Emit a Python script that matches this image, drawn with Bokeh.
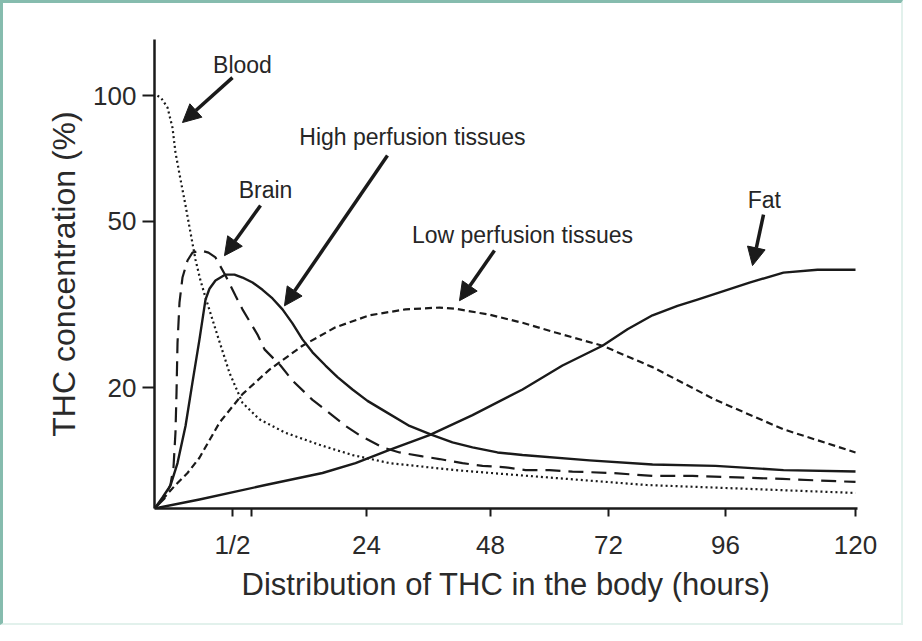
from bokeh.plotting import figure
from bokeh.models import Range1d, FixedTicker, Arrow, NormalHead, ColumnDataSource
from bokeh.core.properties import value
from bokeh.embed import file_html
from bokeh.resources import INLINE

# ---- data (x = position along the drawn time axis, 0..120.34; y = THC concentration %, log scale)
blood_x = [0.51, 1.20, 2.23, 3.08, 3.59, 4.45, 5.31, 6.16, 7.02, 7.87, 8.73, 10.44, 12.84, 15.06, 17.97,
           22.42, 28.24, 33.89, 40.23, 51.52, 60.77, 84.22, 120.0]
blood_y = [100, 98.4, 93.6, 83.8, 73.1, 63.0, 54.6, 47.0, 40.5, 36.1, 32.9, 27.6, 21.7, 18.4, 16.8,
           15.6, 14.6, 13.8, 13.2, 12.7, 12.4, 11.7, 11.2]

brain_x = [0.0, 1.71, 2.74, 3.25, 3.59, 3.77, 3.94, 4.28, 4.79, 5.65, 6.50, 7.87, 9.24, 10.44, 12.15, 13.87,
           15.06, 17.63, 18.83, 21.57, 23.62, 27.05, 29.27, 32.70, 35.09, 39.03, 41.94, 45.88, 48.79, 52.72,
           56.15, 60.08, 63.51, 67.62, 71.55, 78.40, 85.25, 92.10, 99.80, 107.50, 113.49, 120.0]
brain_y = [10.28, 10.86, 11.73, 12.88, 15.63, 19.48, 25.6, 32.0, 36.7, 40.3, 42.1, 42.6, 42.1, 41.0, 37.1, 33.2,
           30.8, 26.8, 24.7, 22.6, 20.8, 18.7, 17.7, 16.2, 15.4, 14.4, 14.0, 13.7, 13.5, 13.2,
           13.0, 12.9, 12.7, 12.7, 12.6, 12.5, 12.3, 12.3, 12.2, 12.1, 12.0, 11.9]

high_x = [0.0, 1.37, 2.74, 3.94, 5.31, 6.50, 7.70, 8.73, 9.41, 10.44, 12.15, 13.69, 15.06, 16.78, 18.49,
          20.20, 21.91, 23.62, 25.33, 27.05, 29.27, 31.33, 33.89, 36.46, 39.03, 43.65, 47.59, 51.01, 54.44,
          58.71, 62.99, 74.46, 85.25, 96.03, 107.67, 120.0]
high_y = [10.28, 10.92, 11.67, 13.2, 16.2, 20.6, 26.1, 32.5, 34.5, 36.1, 37.3, 37.3, 36.7, 35.7, 34.3,
          32.7, 30.8, 28.5, 26.1, 24.3, 22.6, 21.2, 19.8, 18.6, 17.7, 16.2, 15.4, 14.8, 14.4,
          14.0, 13.8, 13.4, 13.1, 13.0, 12.7, 12.6]

low_x = [0.0, 3.59, 5.65, 7.70, 11.13, 15.06, 19.69, 25.33, 30.98, 36.80, 42.97, 48.79, 51.52, 57.35,
         63.00, 68.64, 76.69, 85.25, 96.03, 107.67, 120.0]
low_y = [10.28, 11.7, 12.5, 13.6, 16.5, 19.3, 22.1, 25.2, 27.9, 29.8, 30.8, 31.1, 30.9, 29.9,
         28.6, 27.1, 25.2, 22.4, 18.7, 15.9, 14.0]

fat_x = [0.0, 7.70, 19.00, 28.76, 34.41, 40.23, 47.07, 54.44, 63.00, 69.84, 76.69, 80.97, 85.25, 89.53,
         92.95, 101.85, 107.67, 113.49, 120.0]
fat_y = [10.28, 10.8, 11.7, 12.5, 13.2, 14.2, 15.4, 17.2, 19.8, 22.6, 25.2, 27.6, 29.8, 31.4,
         32.5, 35.7, 37.7, 38.3, 38.3]

x_tick_pos = [13.35, 16.60, 36.29, 57.52, 77.72, 97.74, 120.0]
x_tick_labels = ["1/2", "", "24", "48", "72", "96", "120"]
y_ticks = [20, 50, 100]
y_tick_labels = ["20", "50", "100"]

annot_text = ["Blood", "Brain", "High perfusion tissues", "Low perfusion tissues", "Fat"]
annot_x = [15.06, 19.0, 44.16, 63.0, 104.4]
annot_y = [118.6, 59.6, 79.4, 46.5, 56.1]

arrow_x0 = [13.35, 18.15, 39.88, 58.20, 104.25]
arrow_y0 = [110.4, 54.6, 71.9, 42.6, 51.9]
arrow_x1 = [4.79, 11.98, 22.25, 52.21, 102.37]
arrow_y1 = [86.2, 41.4, 31.4, 32.3, 39.2]

FONT = "Liberation Sans"
INK = "#1a1a1a"
TXT = "#2a2a2a"

p = figure(width=903, height=625, output_backend="svg", toolbar_location=None,
           y_axis_type="log", x_range=Range1d(0, 120.34), y_range=Range1d(10.28, 136.2),
           min_border_left=151, min_border_right=49, min_border_top=36, min_border_bottom=120)
p.styles = {"border-top": "3px solid #86bcae", "border-left": "3px solid #86bcae",
            "border-right": "2px solid #e2f1ec", "border-bottom": "2px solid #e2f1ec"}
p.outline_line_color = None
p.grid.visible = False
p.background_fill_color = "white"
p.border_fill_color = "white"

# curves
p.line(blood_x, blood_y, line_color=INK, line_width=2.2, line_dash="2 3")
p.line(brain_x, brain_y, line_color=INK, line_width=2.2, line_dash="15 8")
p.line(high_x, high_y, line_color=INK, line_width=2.4, line_join="round")
p.line(low_x, low_y, line_color=INK, line_width=2.2, line_dash="7 4")
p.line(fat_x, fat_y, line_color=INK, line_width=2.4, line_join="round")

# annotations
src = ColumnDataSource(dict(x0=arrow_x0, y0=arrow_y0, x1=arrow_x1, y1=arrow_y1))
p.add_layout(Arrow(source=src, x_start="x0", y_start="y0", x_end="x1", y_end="y1",
                   line_width=3.5, line_color=INK,
                   end=NormalHead(size=18, fill_color=INK, line_color=INK)))
p.text(x=annot_x, y=annot_y, text=annot_text, text_font=value(FONT), text_font_size="23px",
       text_align="center", text_baseline="middle", text_color="#262626")

# axes
for ax in (p.xaxis[0], p.yaxis[0]):
    ax.axis_line_width = 2.5
    ax.axis_line_color = INK
    ax.major_tick_line_color = INK
    ax.major_tick_line_width = 2
    ax.major_tick_in = 0
    ax.minor_tick_line_color = None
    ax.major_label_text_font = FONT
    ax.major_label_text_font_size = "26px"
    ax.major_label_text_color = TXT
    ax.axis_label_text_font = FONT
    ax.axis_label_text_font_style = "normal"
    ax.axis_label_text_color = TXT

p.xaxis.ticker = FixedTicker(ticks=x_tick_pos)
p.xaxis.major_label_overrides = {t: l for t, l in zip(x_tick_pos, x_tick_labels)}
p.xaxis.major_tick_out = 8
p.xaxis.major_label_standoff = 13
p.xaxis.axis_label = "Distribution of THC in the body (hours)"
p.xaxis.axis_label_text_font_size = "31px"
p.xaxis.axis_label_standoff = 4

p.yaxis.ticker = FixedTicker(ticks=y_ticks)
p.yaxis.major_label_overrides = {t: l for t, l in zip(y_ticks, y_tick_labels)}
p.yaxis.major_tick_out = 12
p.yaxis.major_label_standoff = 6
p.yaxis.axis_label = "THC concentration (%)"
p.yaxis.axis_label_text_font_size = "32px"
p.yaxis.axis_label_standoff = 8

open("out.html", "w").write(file_html(p, INLINE))
